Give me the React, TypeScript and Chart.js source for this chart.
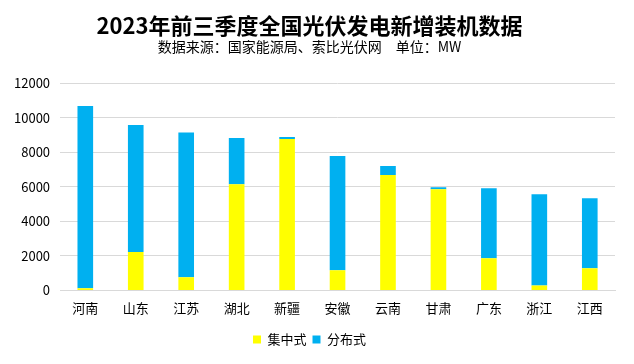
import React, { useEffect, useRef } from "react";
import { Chart, registerables } from "chart.js";

Chart.register(...registerables);

const categories = ["河南", "山东", "江苏", "湖北", "新疆", "安徽", "云南", "甘肃", "广东", "浙江", "江西"];
const centralized = [130, 2230, 760, 6150, 8770, 1160, 6680, 5860, 1860, 290, 1280];
const distributed = [10550, 7350, 8380, 2680, 110, 6620, 520, 120, 4060, 5280, 4060];
const titleText = "2023年前三季度全国光伏发电新增装机数据";
const subtitleText = "数据来源：国家能源局、索比光伏网　单位：MW";

const FONT = "'Noto Sans CJK SC', 'Noto Sans', sans-serif";

export default function App() {
  const ref = useRef<HTMLCanvasElement | null>(null);
  useEffect(() => {
    if (!ref.current) return;
    const chart = new Chart(ref.current, {
      type: "bar",
      data: {
        labels: categories,
        datasets: [
          { label: "集中式", data: centralized, backgroundColor: "#FFFF00", barPercentage: 0.62, categoryPercentage: 0.5 },
          { label: "分布式", data: distributed, backgroundColor: "#00B0F0", barPercentage: 0.62, categoryPercentage: 0.5 },
        ],
      },
      options: {
        responsive: false,
        animation: false,
        layout: { padding: { left: 4, right: 19, top: 12, bottom: 8 } },
        plugins: {
          title: {
            display: true,
            text: titleText,
            color: "#000",
            font: { family: FONT, size: 22, weight: "bold" },
            padding: { top: 0, bottom: 0 },
          },
          subtitle: {
            display: true,
            text: subtitleText,
            color: "#000",
            font: { family: FONT, size: 14 },
            padding: { top: 0, bottom: 28 },
          },
          legend: {
            position: "bottom",
            labels: {
              color: "#000",
              font: { family: FONT, size: 13 },
              boxWidth: 8,
              boxHeight: 8,
              padding: 6,
            },
          },
          tooltip: { enabled: false },
        },
        scales: {
          x: {
            stacked: true,
            grid: { display: false },
            border: { color: "#d9d9d9" },
            ticks: { color: "#000", font: { family: FONT, size: 13 }, padding: 2 },
            afterFit: (axis: any) => {
              axis.height += 9;
            },
          },
          y: {
            stacked: true,
            min: 0,
            max: 12000,
            ticks: {
              stepSize: 2000,
              color: "#000",
              font: { family: FONT, size: 13 },
              padding: 10,
              callback: (v: any) => String(v),
            },
            grid: { color: "#d9d9d9", drawTicks: false },
            border: { display: false },
          },
        },
      },
    });
    return () => chart.destroy();
  }, []);
  return (
    <div style={{ position: "fixed", left: 0, top: 0, width: 634, height: 364, background: "#fff" }}>
      <canvas ref={ref} width={634} height={364} />
    </div>
  );
}
